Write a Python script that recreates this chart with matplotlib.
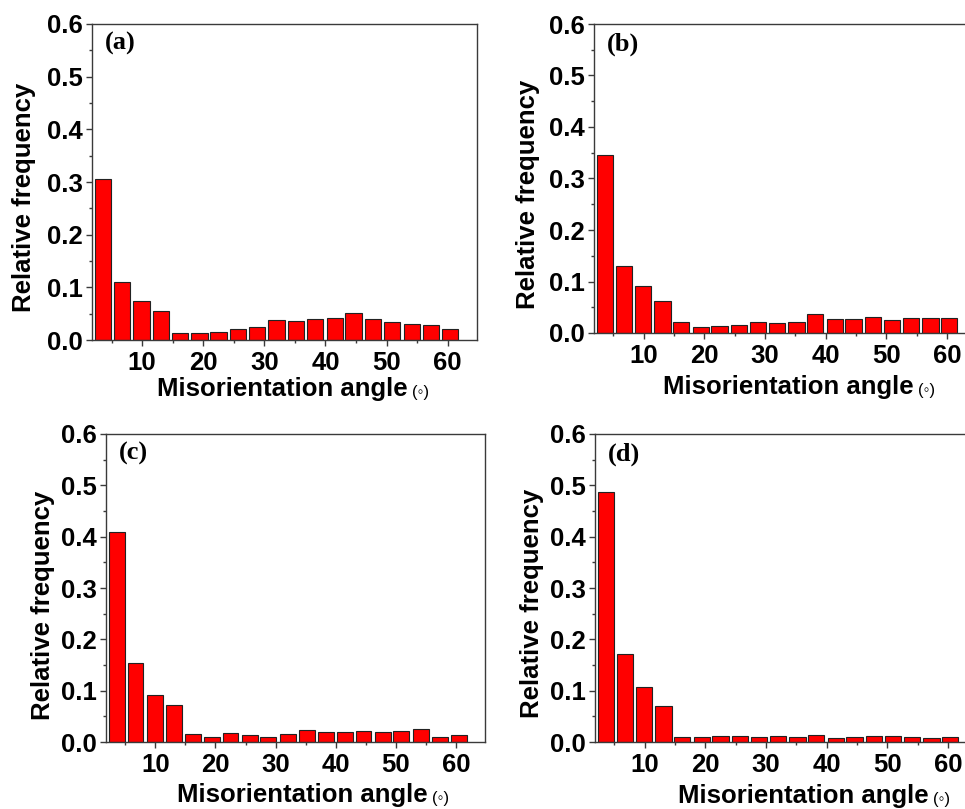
import matplotlib
matplotlib.use("Agg")
import matplotlib.pyplot as plt
from matplotlib.ticker import MultipleLocator

plt.rcParams.update({"font.family": ["Liberation Sans", "DejaVu Sans"],
                     "font.weight": "bold", "font.size": 18,
                     "axes.linewidth": 1.0, "axes.edgecolor": "#3a3a3a"})

# misorientation bin centres (deg) and relative frequencies per sample
angle = [3.6, 6.7, 9.9, 13.1, 16.2, 19.4, 22.5, 25.7, 28.8, 32.0,
         35.2, 38.3, 41.5, 44.6, 47.8, 50.9, 54.1, 57.3, 60.4]
freq_a = [0.306, 0.110, 0.075, 0.055, 0.013, 0.013, 0.015, 0.020, 0.025, 0.038,
          0.037, 0.039, 0.042, 0.052, 0.039, 0.035, 0.030, 0.028, 0.021]
freq_b = [0.345, 0.130, 0.092, 0.063, 0.021, 0.011, 0.014, 0.016, 0.021, 0.019,
          0.021, 0.037, 0.027, 0.027, 0.031, 0.025, 0.029, 0.030, 0.029]
freq_c = [0.410, 0.154, 0.091, 0.072, 0.016, 0.010, 0.017, 0.013, 0.010, 0.015,
          0.023, 0.019, 0.020, 0.022, 0.019, 0.021, 0.026, 0.009, 0.014]
freq_d = [0.487, 0.172, 0.108, 0.070, 0.009, 0.010, 0.012, 0.012, 0.010, 0.012,
          0.010, 0.014, 0.008, 0.010, 0.012, 0.012, 0.010, 0.007, 0.009]
tags = ["(a)", "(b)", "(c)", "(d)"]

W, H = 965, 809
fig = plt.figure(figsize=(W / 100, H / 100), dpi=100)

# panel boxes in pixels: left, top, bottom, width
boxes = [(92, 24, 340, 385), (594, 24, 333, 382),
         (106, 434, 742, 379), (595, 434, 742, 382)]
# y-label centre and x-label (left, top) in pixels
ylab_pos = [(24, 197), (528, 194), (43, 605), (532, 603)]
xlab_pos = [(157, 377), (663, 375), (177, 783), (678, 784)]

for k, freq in enumerate([freq_a, freq_b, freq_c, freq_d]):
    L, T, B, Wd = boxes[k]
    ax = fig.add_axes([L / W, 1 - B / H, Wd / W, (B - T) / H])
    ax.bar(angle, freq, width=2.65, color="#ff0000", edgecolor="#222222", lw=0.8)
    ax.set_xlim(1.8, 64.8)
    ax.set_ylim(0, 0.6)
    ax.xaxis.set_major_locator(MultipleLocator(10))
    ax.xaxis.set_minor_locator(MultipleLocator(5))
    ax.yaxis.set_major_locator(MultipleLocator(0.1))
    ax.yaxis.set_minor_locator(MultipleLocator(0.05))
    ax.set_yticklabels([f"{v:.1f}" for v in ax.get_yticks()])
    ax.tick_params(which="major", direction="out", length=4.6, width=1.0,
                   color="#3a3a3a", labelsize=18.5)
    ax.tick_params(which="minor", direction="out", length=2.4, width=1.0,
                   color="#3a3a3a")
    ax.tick_params(axis="y", pad=2)
    ax.tick_params(axis="x", pad=3)
    for lab in ax.get_xticklabels() + ax.get_yticklabels():
        lab.set_fontweight("bold")

    ax.annotate(tags[k], xy=(0, 1), xycoords="axes fraction", xytext=(9.5, -6),
                textcoords="offset points", ha="left", va="top",
                family="Liberation Serif", fontweight="bold", fontsize=19)

    yx, yy = ylab_pos[k]
    fig.text(yx / W, 1 - yy / H, "Relative frequency", rotation=90,
             ha="center", va="center", fontsize=18.5, fontweight="bold")
    xx, xy = xlab_pos[k]
    main = fig.text(xx / W, 1 - xy / H, "Misorientation angle",
                    ha="left", va="top", fontsize=18.5, fontweight="bold")
    ax.annotate("(\u25e6)", xy=(1, 0), xycoords=main, xytext=(3, 0.5),
                textcoords="offset points", ha="left", va="bottom",
                fontsize=12, fontweight="normal",
                family=["Liberation Sans", "DejaVu Sans"])

fig.savefig("out.png", dpi=100)
